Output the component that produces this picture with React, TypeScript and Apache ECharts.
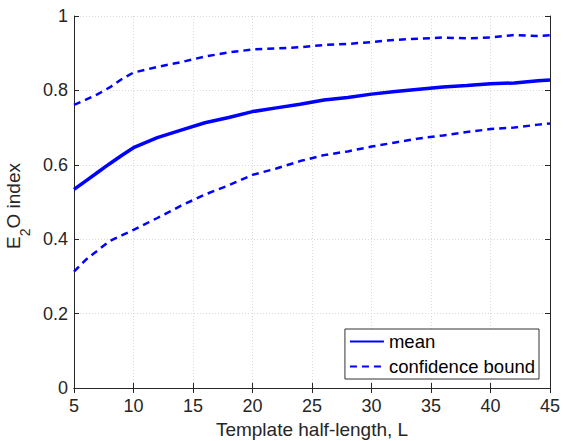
import React, { useEffect, useRef } from "react";
import * as echarts from "echarts";

const xs = [5, 6, 7, 8, 9, 10, 12, 14, 16, 18, 20, 22, 24, 26, 28, 30, 32, 34, 36, 38, 40, 42, 44, 45];
const meanVals = [0.534, 0.557, 0.58, 0.603, 0.625, 0.646, 0.673, 0.693, 0.713, 0.727, 0.743, 0.753, 0.763, 0.774, 0.781, 0.79, 0.797, 0.803, 0.809, 0.813, 0.818, 0.82, 0.826, 0.828];
const upperVals = [0.761, 0.775, 0.79, 0.808, 0.83, 0.848, 0.863, 0.876, 0.891, 0.902, 0.91, 0.913, 0.916, 0.922, 0.925, 0.93, 0.936, 0.939, 0.942, 0.94, 0.942, 0.949, 0.946, 0.948];
const lowerVals = [0.313, 0.345, 0.37, 0.395, 0.41, 0.425, 0.457, 0.49, 0.52, 0.545, 0.573, 0.59, 0.61, 0.626, 0.636, 0.649, 0.66, 0.671, 0.679, 0.688, 0.696, 0.7, 0.708, 0.711];

const pairs = (ys: number[]) => xs.map((x, i) => [x, ys[i]]);

const FONT = "'Liberation Sans', Arial, sans-serif";
const AXIS_COLOR = "#262626";
const BLUE = "#0000ff";
const DASH = [7, 5];

export default function App() {
  const ref = useRef<HTMLDivElement>(null);
  useEffect(() => {
    if (!ref.current) return;
    const chart = echarts.init(ref.current, null, { renderer: "svg" });
    const axisCommon = {
      axisLine: { show: true, lineStyle: { color: AXIS_COLOR, width: 1 } },
      axisTick: { show: true, inside: true, length: 5, lineStyle: { color: AXIS_COLOR } },
    };
    chart.setOption({
      animation: false,
      textStyle: { fontFamily: FONT },
      grid: { left: 74, right: 13, top: 16, bottom: 53, containLabel: false, outerBoundsMode: "none" },
      legend: {
        orient: "vertical",
        right: 24,
        bottom: 62,
        itemWidth: 34,
        itemHeight: 14,
        itemGap: 6,
        padding: [3, 4, 3, 4],
        borderColor: "#333",
        borderWidth: 1,
        borderRadius: 0,
        backgroundColor: "#fff",
        itemStyle: { opacity: 0 },
        textStyle: { fontSize: 18.5, color: "#000", fontFamily: FONT },
        data: ["mean", "confidence bound"],
      },
      xAxis: [
        {
          type: "value",
          min: 5,
          max: 45,
          interval: 5,
          name: "Template half-length, L",
          nameLocation: "middle",
          nameGap: 31,
          nameTextStyle: { fontSize: 19, color: AXIS_COLOR, fontFamily: FONT },
          axisLabel: { fontSize: 18, color: AXIS_COLOR, margin: 9, fontFamily: FONT },
          splitLine: { show: true, lineStyle: { color: "#d9d9d9", type: [1, 2], width: 1 } },
          ...axisCommon,
        },
        {
          type: "value",
          position: "top",
          min: 5,
          max: 45,
          interval: 5,
          axisLabel: { show: false },
          splitLine: { show: false },
          ...axisCommon,
        },
      ],
      yAxis: [
        {
          type: "value",
          min: 0,
          max: 1,
          interval: 0.2,
          name: "{m|E}{sub|2}{m|O index}",
          nameLocation: "middle",
          nameGap: 33,
          nameTextStyle: {
            fontSize: 19,
            color: AXIS_COLOR,
            fontFamily: FONT,
            padding: [0, 8, 0, 0],
            rich: {
              m: { fontSize: 19, lineHeight: 28, verticalAlign: "top", color: AXIS_COLOR, fontFamily: FONT },
              sub: { fontSize: 14, lineHeight: 14, verticalAlign: "bottom", color: AXIS_COLOR, fontFamily: FONT },
            },
          },
          axisLabel: {
            fontSize: 18,
            color: AXIS_COLOR,
            margin: 6,
            fontFamily: FONT,
            formatter: (v: number) => String(Math.round(v * 10) / 10),
          },
          splitLine: { show: true, lineStyle: { color: "#d9d9d9", type: [1, 2], width: 1 } },
          ...axisCommon,
        },
        {
          type: "value",
          position: "right",
          min: 0,
          max: 1,
          interval: 0.2,
          axisLabel: { show: false },
          splitLine: { show: false },
          ...axisCommon,
        },
      ],
      series: [
        {
          name: "mean",
          type: "line",
          data: pairs(meanVals),
          showSymbol: false,
          symbol: "none",
          lineStyle: { color: BLUE, width: 3.5 },
          itemStyle: { color: BLUE },
        },
        {
          name: "confidence bound",
          type: "line",
          data: pairs(upperVals),
          showSymbol: false,
          symbol: "none",
          lineStyle: { color: BLUE, width: 2.5, type: DASH },
          itemStyle: { color: BLUE },
        },
        {
          name: "confidence bound",
          type: "line",
          data: pairs(lowerVals),
          showSymbol: false,
          symbol: "none",
          lineStyle: { color: BLUE, width: 2.5, type: DASH },
          itemStyle: { color: BLUE },
        },
      ],
    });
    return () => chart.dispose();
  }, []);
  return <div ref={ref} style={{ width: 563, height: 441, position: "absolute", left: 0, top: 0 }} />;
}
